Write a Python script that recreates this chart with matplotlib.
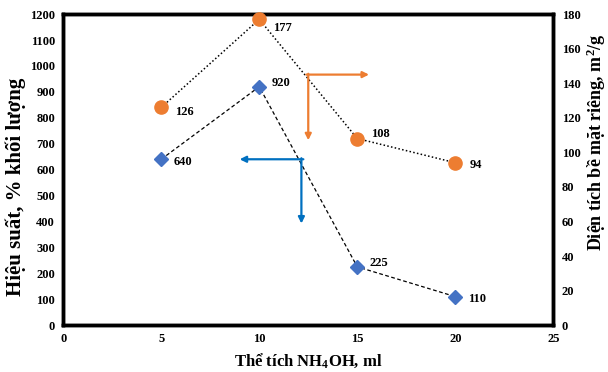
import numpy as np
import matplotlib.pyplot as plt

plt.rcParams['font.family'] = ['Liberation Serif', 'DejaVu Serif']
plt.rcParams['font.weight'] = 'bold'
plt.rcParams['mathtext.fontset'] = 'custom'
plt.rcParams['mathtext.rm'] = 'Liberation Serif:bold'
plt.rcParams['mathtext.bf'] = 'Liberation Serif:bold'
plt.rcParams['mathtext.it'] = 'Liberation Serif:bold'

vol = [5, 10, 15, 20]
hieu_suat = [640, 920, 225, 110]
dien_tich = [126, 177, 108, 94]

fig = plt.figure(figsize=(6.08, 3.72), dpi=100)
ax = fig.add_axes([0.104, 0.126, 0.806, 0.836])
ax2 = ax.twinx()

ax.plot(vol, hieu_suat, color='black', lw=0.9, ls=(0, (3, 2)), zorder=2)
ax.plot(vol, hieu_suat, ls='none', marker='D', ms=7, color='#4472C4', zorder=3, clip_on=False)
ax2.plot(vol, dien_tich, color='black', lw=1.1, ls=(0, (1, 1.5)), zorder=2)
ax2.plot(vol, dien_tich, ls='none', marker='o', ms=9.5, color='#ED7D31', zorder=3, clip_on=False)

for x, y in zip(vol, hieu_suat):
    dy = 3 if x in (10, 15) else -2
    ax.annotate(str(y), (x, y), xytext=(9, dy), textcoords='offset points',
                fontsize=9, fontweight='bold', va='center')
for x, y in zip(vol, dien_tich):
    dy = {5: -3, 10: -6, 15: 3, 20: -2}[x]
    ax2.annotate(str(y), (x, y), xytext=(10, dy), textcoords='offset points',
                 fontsize=9, fontweight='bold', va='center')

# arrows showing which axis each series belongs to
ax2.annotate('', xy=(15.6, 145), xytext=(12.4, 145),
             arrowprops=dict(arrowstyle='-|>', color='#ED7D31', lw=1.6, mutation_scale=9,
                             shrinkA=0, shrinkB=0))
ax2.annotate('', xy=(12.5, 107), xytext=(12.5, 145.5),
             arrowprops=dict(arrowstyle='-|>', color='#ED7D31', lw=1.6, mutation_scale=9,
                             shrinkA=0, shrinkB=0))
ax.annotate('', xy=(9.0, 640), xytext=(12.25, 640),
            arrowprops=dict(arrowstyle='-|>', color='#0070C0', lw=1.6, mutation_scale=9,
                            shrinkA=0, shrinkB=0))
ax.annotate('', xy=(12.15, 392), xytext=(12.15, 644),
            arrowprops=dict(arrowstyle='-|>', color='#0070C0', lw=1.6, mutation_scale=9,
                            shrinkA=0, shrinkB=0))

ax.set_xlim(0, 25)
ax.set_ylim(0, 1200)
ax2.set_ylim(0, 180)
ax.set_xticks([0, 5, 10, 15, 20, 25])
ax.set_yticks(np.arange(0, 1201, 100))
ax2.set_yticks(np.arange(0, 181, 20))

for a in (ax, ax2):
    a.tick_params(length=0, labelsize=9, pad=6)
    for s in a.spines.values():
        s.set_linewidth(2.5)
for lab in ax.get_xticklabels() + ax.get_yticklabels() + ax2.get_yticklabels():
    lab.set_fontweight('bold')

ax.set_xlabel('Thể tích NH$_4$OH, ml', fontsize=12, fontweight='bold', labelpad=4)
ax.set_ylabel('Hiệu suất, % khối lượng', fontsize=15, fontweight='bold')
ax2.set_ylabel('Diện tích bề mặt riêng, m$^2$/g', fontsize=13, fontweight='bold')
ax.yaxis.set_label_coords(-0.076, 0.444)
ax2.yaxis.set_label_coords(1.064, 0.59)

fig.savefig('out.png', dpi=100)
